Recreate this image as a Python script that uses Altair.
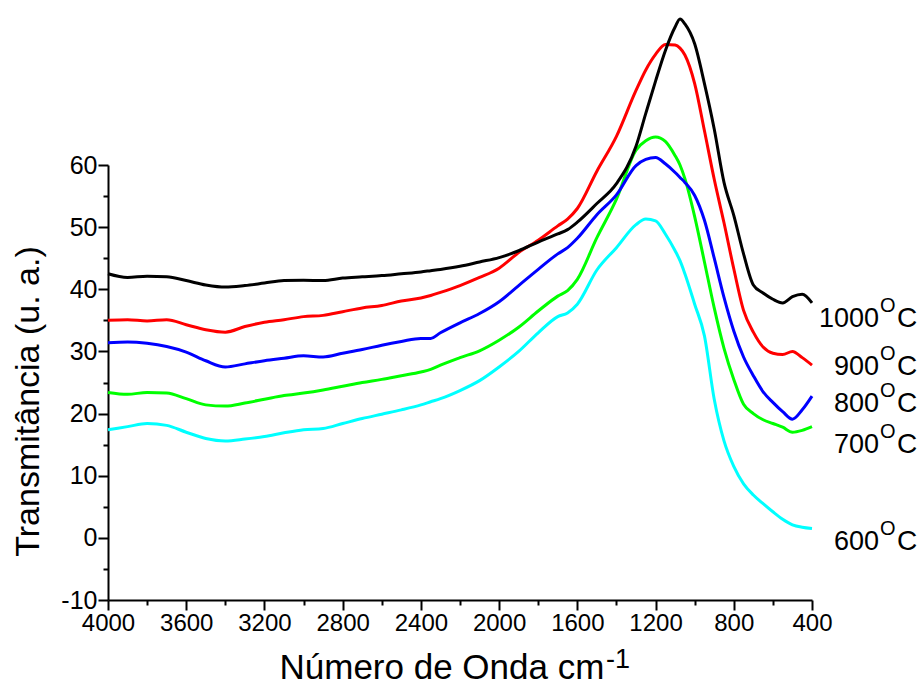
import altair as alt
import pandas as pd

# ---- data ----
wn = [4000, 3900, 3800, 3700, 3600, 3500, 3400, 3300, 3200, 3100, 3000, 2900, 2800,
      2700, 2600, 2500, 2400, 2350, 2300, 2200, 2100, 2000, 1900, 1800, 1700, 1650,
      1600, 1500, 1400, 1300, 1250, 1200, 1150, 1100, 1075, 1050, 1000, 950, 900,
      850, 800, 750, 700, 650, 600, 550, 500, 450, 400]

t1000 = [42.5, 41.9, 42.1, 42.0, 41.4, 40.7, 40.35, 40.6, 41.0, 41.4,
         41.45, 41.4, 41.8, 42.0, 42.2, 42.5, 42.8, 43.0, 43.2, 43.7,
         44.4, 45.1, 46.2, 47.6, 48.9, 49.6, 50.8, 53.8, 57.0, 63.0,
         68.3, 73.5, 78.4, 82.2, 83.5, 82.7, 79.5, 73.1, 65.8, 57.2,
         51.9, 45.7, 40.7, 39.4, 38.4, 37.8, 38.8, 39.2, 37.8]
t900 = [35.0, 35.1, 34.9, 35.1, 34.3, 33.5, 33.1, 34.0, 34.7, 35.1,
        35.6, 35.8, 36.4, 37.0, 37.4, 38.1, 38.6, 39.0, 39.5, 40.6,
        41.9, 43.4, 45.9, 47.9, 50.2, 51.3, 53.0, 59.0, 64.6, 72.0,
        75.3, 77.8, 79.4, 79.3, 78.8, 77.7, 73.1, 65.5, 57.7, 50.7,
        43.3, 36.6, 33.1, 30.7, 29.7, 29.5, 30.0, 29.0, 27.8]
t800 = [31.4, 31.5, 31.3, 30.8, 29.9, 28.5, 27.5, 28.0, 28.5, 28.9,
        29.3, 29.1, 29.7, 30.3, 31.0, 31.6, 32.1, 32.1, 33.0, 34.6,
        36.1, 38.0, 40.6, 43.2, 45.7, 46.7, 48.2, 52.0, 55.2, 59.9,
        60.9, 61.2, 60.2, 58.8, 58.0, 57.2, 55.1, 51.1, 45.0, 38.7,
        33.3, 29.1, 26.1, 23.5, 21.8, 20.3, 19.1, 20.6, 22.8]
t700 = [23.4, 23.1, 23.4, 23.3, 22.4, 21.4, 21.2, 21.7, 22.3, 22.9,
        23.3, 23.8, 24.4, 25.0, 25.5, 26.1, 26.7, 27.1, 27.8, 29.0,
        30.1, 31.8, 33.9, 36.5, 38.9, 39.8, 41.6, 48.3, 54.5, 62.4,
        63.9, 64.5, 63.8, 61.5, 60.0, 57.8, 51.7, 44.4, 37.0, 30.5,
        25.5, 21.5, 20.0, 19.0, 18.4, 17.8, 17.0, 17.3, 17.9]
t600 = [17.4, 17.9, 18.4, 18.1, 17.0, 16.0, 15.6, 15.9, 16.3, 16.9,
        17.4, 17.6, 18.4, 19.2, 19.9, 20.6, 21.4, 21.9, 22.4, 23.7,
        25.3, 27.5, 30.0, 33.0, 35.6, 36.2, 37.6, 43.1, 46.7, 50.4,
        51.3, 51.0, 48.9, 46.2, 44.6, 42.5, 37.6, 32.5, 22.3, 15.6,
        11.5, 8.7, 6.9, 5.5, 4.2, 3.0, 2.1, 1.7, 1.5]

series_names = ["600", "700", "800", "900", "1000"]
series_values = [t600, t700, t800, t900, t1000]
series_colors = ["#00FFFF", "#00FF00", "#0000FF", "#FF0000", "#000000"]

label_names = ["1000", "900", "800", "700", "600"]
label_y = [33.9, 26.2, 20.3, 13.6, -2.0]

x_major = [4000, 3600, 3200, 2800, 2400, 2000, 1600, 1200, 800, 400]
x_minor = [3800, 3400, 3000, 2600, 2200, 1800, 1400, 1000, 600]
y_major = [-10, 0, 10, 20, 30, 40, 50, 60]
y_minor = [-5, 5, 15, 25, 35, 45, 55]

x_title = "Número de Onda cm"
x_title_sup = ["-1"]
y_title = "Transmitância (u. a.)"

FONT = "Liberation Sans, Arial"

rows = []
for name, vals in zip(series_names, series_values):
    for w, v in zip(wn, vals):
        rows.append({"wn": w, "T": v, "serie": name})
df = pd.DataFrame(rows)

lab_df = pd.DataFrame({"lx": [400] * len(label_names), "ly": label_y,
                       "name": label_names, "o": ["O"] * len(label_names),
                       "c": ["C"] * len(label_names)})
sup_df = pd.DataFrame({"sup": x_title_sup})

xscale = alt.Scale(domain=[4000, 400], nice=False, zero=False)
yscale = alt.Scale(domain=[-10, 60], nice=False, zero=False)

x_axis_major = alt.Axis(values=x_major, labelExpr="datum.value", orient="bottom",
                        tickSize=10, tickWidth=2, tickColor="black",
                        domainWidth=2, domainColor="black", grid=False,
                        labelFont=FONT, labelFontSize=24, labelColor="black",
                        labelPadding=1, labelFlush=False, labelOverlap=False,
                        title=x_title, titleFont=FONT, titleFontSize=35,
                        titleFontWeight="normal", titleColor="black",
                        titleAlign="left", titleAnchor="start", titleX=171, titleY=78,
                        titleBaseline="alphabetic")
y_axis_major = alt.Axis(values=y_major, labelExpr="datum.value", orient="left",
                        tickSize=10, tickWidth=2, tickColor="black",
                        domainWidth=2, domainColor="black", grid=False,
                        labelFont=FONT, labelFontSize=25, labelColor="black",
                        labelPadding=1, labelFlush=False, labelOverlap=False,
                        title=y_title, titleFont=FONT, titleFontSize=34,
                        titleFontWeight="normal", titleColor="black",
                        titleAngle=270, titleAlign="center", titleX=-70, titleY=236,
                        titleBaseline="alphabetic")

x_axis_minor = alt.Axis(values=x_minor, orient="bottom", labels=False, domain=False,
                        tickSize=5, tickWidth=2, tickColor="black", grid=False, title="")
y_axis_minor = alt.Axis(values=y_minor, orient="left", labels=False, domain=False,
                        tickSize=5, tickWidth=2, tickColor="black", grid=False, title="")

lines = alt.Chart(df).mark_line(strokeWidth=3, clip=False, interpolate="monotone").encode(
    x=alt.X("wn:Q", scale=xscale, axis=x_axis_major),
    y=alt.Y("T:Q", scale=yscale, axis=y_axis_major),
    color=alt.Color("serie:N", scale=alt.Scale(domain=series_names, range=series_colors),
                    legend=None),
    order=alt.Order("wn:Q", sort="descending"),
)

minor = alt.Chart(df).mark_line(opacity=0, clip=False).encode(
    x=alt.X("wn:Q", scale=xscale, axis=x_axis_minor),
    y=alt.Y("T:Q", scale=yscale, axis=y_axis_minor),
    detail="serie:N",
)

lab_base = alt.Chart(lab_df).encode(
    x=alt.X("lx:Q", scale=xscale, axis=None),
    y=alt.Y("ly:Q", scale=yscale, axis=None),
)
lab_num = lab_base.mark_text(font=FONT, fontSize=27, align="right", baseline="alphabetic",
                             dx=67, color="black", clip=False).encode(text="name:N")
lab_o = lab_base.mark_text(font=FONT, fontSize=20, align="left", baseline="alphabetic",
                           dx=68, dy=-15, color="black", clip=False).encode(text="o:N")
lab_c = lab_base.mark_text(font=FONT, fontSize=28, align="left", baseline="alphabetic",
                           dx=85, color="black", clip=False).encode(text="c:N")

sup = alt.Chart(sup_df).mark_text(font=FONT, fontSize=27, align="left",
                                  baseline="alphabetic", color="black").encode(
    x=alt.value(498), y=alt.value(503), text="sup:N")

chart = alt.layer(lines, minor, lab_num, lab_o, lab_c, sup).resolve_axis(
    x="independent", y="independent"
).properties(
    width=704, height=435,
    padding={"left": 108, "top": 165, "right": 112, "bottom": 84},
    autosize=alt.AutoSizeParams(type="none"),
).configure_view(strokeWidth=0)

chart.save("out.html", embed_options={"renderer": "svg", "actions": False})
